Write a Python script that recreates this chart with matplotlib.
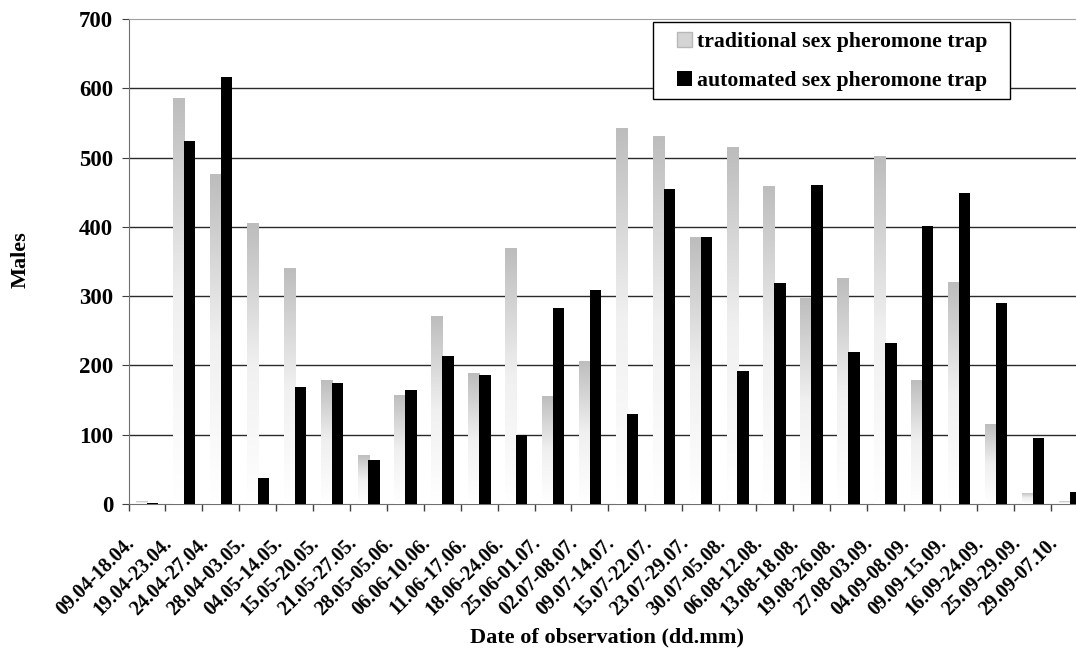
import numpy as np
import matplotlib
matplotlib.use("Agg")
import matplotlib.pyplot as plt
from matplotlib.colors import LinearSegmentedColormap
from matplotlib.patches import Patch, Rectangle
from matplotlib.transforms import ScaledTranslation

periods = ["09.04-18.04.", "19.04-23.04.", "24.04-27.04.", "28.04-03.05.",
           "04.05-14.05.", "15.05-20.05.", "21.05-27.05.", "28.05-05.06.",
           "06.06-10.06.", "11.06-17.06.", "18.06-24.06.", "25.06-01.07.",
           "02.07-08.07.", "09.07-14.07.", "15.07-22.07.", "23.07-29.07.",
           "30.07-05.08.", "06.08-12.08.", "13.08-18.08.", "19.08-26.08.",
           "27.08-03.09.", "04.09-08.09.", "09.09-15.09.", "16.09-24.09.",
           "25.09-29.09.", "29.09-07.10."]
traditional = [4, 586, 476, 405, 340, 179, 71, 158, 272, 189, 369, 156, 207,
               543, 531, 385, 515, 459, 298, 326, 502, 179, 320, 116, 16, 4]
automated = [2, 524, 616, 38, 169, 175, 64, 165, 213, 186, 100, 283, 309,
             130, 454, 385, 192, 319, 461, 220, 232, 401, 449, 290, 96, 17]

plt.rcParams["font.family"] = "Liberation Serif"
plt.rcParams["font.weight"] = "bold"
fs = 16

fig = plt.figure(figsize=(10.76, 6.55), dpi=100)
ax = fig.add_axes([0.1195, 0.2305, 0.8917, 0.7405])

x = np.arange(len(periods))
w = 0.31
grey = LinearSegmentedColormap.from_list("g", ["#ffffff", "#f0f0f0", "#bdbdbd"])
grad = np.linspace(0, 1, 100).reshape(-1, 1)

bars = ax.bar(x + 0.36, traditional, w, color="none", edgecolor="none", zorder=3)
for b in bars:
    x0 = b.get_x()
    im = ax.imshow(grad, extent=[x0, x0 + b.get_width(), 0, b.get_height()],
                   origin="lower", aspect="auto", cmap=grey, zorder=3,
                   interpolation="bilinear")
    im.set_clip_path(b)
ax.bar(x + 0.655, automated, w, color="black", zorder=4)

ax.set_xlim(0, len(periods))
ax.set_ylim(0, 700)
ax.set_yticks(range(0, 701, 100))
for v in range(100, 700, 100):
    ax.axhline(v, color="#2a2a2a", lw=1, zorder=1)

# ticks on category boundaries, labels written as text under each category
ax.set_xticks(np.arange(0, len(periods) + 1))
ax.set_xticklabels([])
ax.tick_params(axis="x", length=5, color="#404040", width=1)
lab_tr = ax.get_xaxis_transform() + ScaledTranslation(-0.22, -0.29, fig.dpi_scale_trans)
for i, p in enumerate(periods):
    ax.text(i + 0.5, 0, p, transform=lab_tr, rotation=45, ha="right", va="top",
            rotation_mode="anchor", fontsize=14.5, fontweight="bold", clip_on=False)

ax.tick_params(axis="y", length=5, color="#404040", labelsize=16.5, pad=6)
for lab in ax.get_yticklabels():
    lab.set_fontweight("bold")

ax.spines["right"].set_visible(False)
ax.spines["top"].set_color("#a0a0a0")
ax.spines["left"].set_color("#707070")
ax.spines["bottom"].set_color("#707070")

fig.text(0.019, 0.603, "Males", rotation=90, ha="center", va="center",
         fontsize=fs, fontweight="bold")
fig.text(0.564, 0.027, "Date of observation (dd.mm)", ha="center", va="center",
         fontsize=fs, fontweight="bold")

# legend frame drawn separately so the padding matches
frame = Rectangle((653 / 1076, 1 - 99 / 655), 357 / 1076, 77 / 655,
                  transform=fig.transFigure, facecolor="white",
                  edgecolor="black", lw=1, zorder=4)
fig.add_artist(frame)
handles = [Patch(facecolor="#d4d4d4", edgecolor="#b8b8b8", label="traditional sex pheromone trap"),
           Patch(facecolor="black", label="automated sex pheromone trap")]
leg = fig.legend(handles=handles, loc="center left",
                 bbox_to_anchor=(677 / 1076, 1 - 61.5 / 655),
                 bbox_transform=fig.transFigure, frameon=False,
                 fontsize=15.7, handlelength=0.68, handleheight=0.68,
                 handletextpad=0.25, labelspacing=0.85,
                 borderpad=0, borderaxespad=0)
leg.set_zorder(5)
for t in leg.get_texts():
    t.set_fontweight("bold")

fig.savefig("out.png", dpi=100)
